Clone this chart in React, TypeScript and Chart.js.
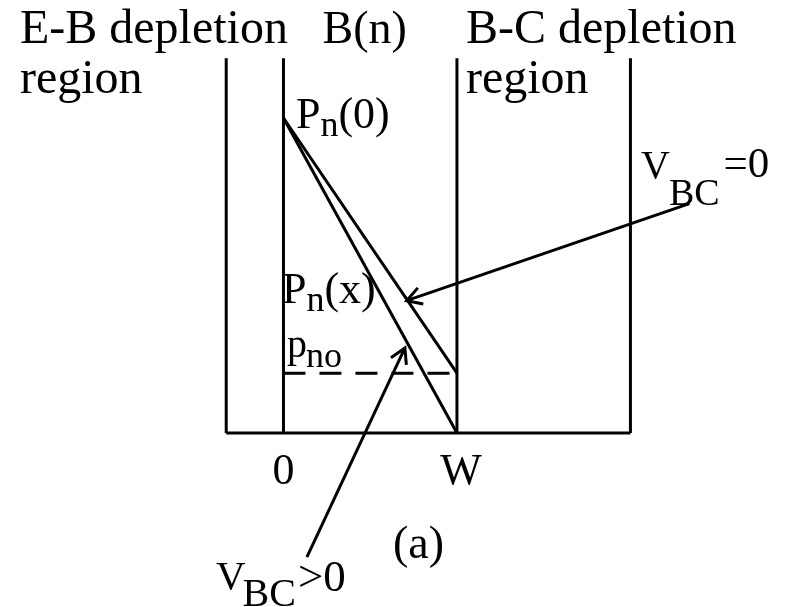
import { useEffect, useRef } from "react";
import { Chart, registerables } from "chart.js";

Chart.register(...registerables);

// Region boundaries along x: x = 0 is the emitter side of the base, x = 1 is W
const boundaryX = [-0.33, 0, 1, 2];
const boundaryTop = 1.19;
const baseLineX = [-0.33, 2];

// Hole profile in the n-type base, normalised so that Pn(0) = 1
const profileX = [0, 1];
const profileVbcZero = [1.0, 0.19]; // ends at p_no when V_BC = 0
const profileVbcPositive = [1.0, 0.0]; // falls to zero when V_BC > 0
const pnoLevel = 0.19;

// Pointer arrows: [tail, tip]
const arrowVbcZeroX = [2.34, 0.71];
const arrowVbcZeroY = [0.728, 0.42];
const arrowVbcPosX = [0.135, 0.7];
const arrowVbcPosY = [-0.394, 0.27];

// Axis tick labels below the base
const tickLabels = ["0", "W"];
const tickValues = [0, 1];

const FONT = "'Liberation Serif', 'Times New Roman', serif";

type Run = { text: string; size: number; dy?: number; dx?: number };
type Label = { x: number; y: number; runs: Run[] };

const labels: Label[] = [
  { x: -1.519, y: 1.238, runs: [{ text: "E-B depletion", size: 48 }] },
  { x: -1.519, y: 1.079, runs: [{ text: "region", size: 48 }] },
  { x: 0.225, y: 1.238, runs: [{ text: "B(n)", size: 46 }] },
  { x: 1.052, y: 1.238, runs: [{ text: "B-C depletion", size: 48 }] },
  { x: 1.052, y: 1.079, runs: [{ text: "region", size: 48 }] },
  {
    x: 0.072,
    y: 0.968,
    runs: [
      { text: "P", size: 44 },
      { text: "n", size: 36, dy: 8 },
      { text: "(0)", size: 44 },
    ],
  },
  {
    x: -0.009,
    y: 0.413,
    runs: [
      { text: "P", size: 44 },
      { text: "n", size: 36, dy: 8 },
      { text: "(x)", size: 44 },
    ],
  },
  {
    x: 0.02,
    y: 0.241,
    runs: [
      { text: "p", size: 40 },
      { text: "no", size: 36, dy: 10, dx: -1 },
    ],
  },
  {
    x: 2.061,
    y: 0.81,
    runs: [
      { text: "V", size: 40 },
      { text: "BC", size: 38, dy: 27, dx: -1 },
      { text: "=0", size: 43, dy: -1, dx: 4 },
    ],
  },
  {
    x: -0.389,
    y: -0.495,
    runs: [
      { text: "V", size: 41 },
      { text: "BC", size: 40, dy: 17, dx: -3 },
      { text: ">0", size: 45, dy: 2, dx: 2 },
    ],
  },
  { x: 0.631, y: -0.397, runs: [{ text: "(a)", size: 46 }] },
];

const seg = (xs: number[], ys: number[]) => xs.map((x, i) => ({ x, y: ys[i] }));

const lineStyle = {
  borderColor: "#000",
  borderWidth: 3,
  pointRadius: 0,
  showLine: true,
  fill: false,
  tension: 0,
};

const annotationPlugin = {
  id: "diagramText",
  afterDatasetsDraw(chart: any) {
    const { ctx } = chart;
    const xs = chart.scales.x;
    const ys = chart.scales.y;
    ctx.save();
    ctx.fillStyle = "#000";
    ctx.textBaseline = "alphabetic";

    // arrowheads at the tip of each pointer
    const heads = [
      [arrowVbcZeroX, arrowVbcZeroY],
      [arrowVbcPosX, arrowVbcPosY],
    ];
    ctx.strokeStyle = "#000";
    ctx.lineWidth = 3;
    ctx.lineCap = "butt";
    for (const [ax, ay] of heads) {
      const tx = xs.getPixelForValue(ax[0]);
      const ty = ys.getPixelForValue(ay[0]);
      const hx = xs.getPixelForValue(ax[1]);
      const hy = ys.getPixelForValue(ay[1]);
      const ang = Math.atan2(hy - ty, hx - tx);
      const len = 17;
      const spread = Math.PI / 6;
      ctx.beginPath();
      ctx.moveTo(hx - len * Math.cos(ang - spread), hy - len * Math.sin(ang - spread));
      ctx.lineTo(hx, hy);
      ctx.lineTo(hx - len * Math.cos(ang + spread), hy - len * Math.sin(ang + spread));
      ctx.stroke();
    }

    // tick labels under the base
    ctx.font = `44px ${FONT}`;
    ctx.textAlign = "center";
    tickLabels.forEach((t, i) => {
      const dx = t === "W" ? 4 : 0;
      ctx.fillText(t, xs.getPixelForValue(tickValues[i]) + dx, ys.getPixelForValue(-0.162));
    });

    // text labels with subscripts
    ctx.textAlign = "left";
    for (const lb of labels) {
      let px = xs.getPixelForValue(lb.x);
      const py = ys.getPixelForValue(lb.y);
      for (const r of lb.runs) {
        px += r.dx || 0;
        ctx.font = `${r.size}px ${FONT}`;
        ctx.fillText(r.text, px, py + (r.dy || 0));
        px += ctx.measureText(r.text).width;
      }
    }
    ctx.restore();
  },
};

export default function App() {
  const ref = useRef<HTMLCanvasElement | null>(null);

  useEffect(() => {
    document.body.style.margin = "0";
    const canvas = ref.current;
    if (!canvas) return;

    const datasets: any[] = [];
    boundaryX.forEach((bx) => {
      datasets.push({ ...lineStyle, data: seg([bx, bx], [0, boundaryTop]) });
    });
    datasets.push({ ...lineStyle, data: seg(baseLineX, [0, 0]) });
    datasets.push({ ...lineStyle, data: seg(profileX, profileVbcZero) });
    datasets.push({ ...lineStyle, data: seg(profileX, profileVbcPositive) });
    datasets.push({
      ...lineStyle,
      borderDash: [22, 14],
      data: seg(profileX, [pnoLevel, pnoLevel]),
    });
    datasets.push({ ...lineStyle, data: seg(arrowVbcZeroX, arrowVbcZeroY) });
    datasets.push({ ...lineStyle, data: seg(arrowVbcPosX, arrowVbcPosY) });

    const chart = new Chart(canvas, {
      type: "scatter",
      data: { datasets },
      options: {
        animation: false,
        responsive: false,
        layout: { padding: 0 },
        plugins: { legend: { display: false }, tooltip: { enabled: false }, title: { display: false } },
        scales: {
          x: { type: "linear", display: false, min: -1.634, max: 2.914 },
          y: { type: "linear", display: false, min: -0.5524, max: 1.3746 },
        },
        elements: { line: { borderCapStyle: "butt" } },
      },
      plugins: [annotationPlugin],
    });
    return () => chart.destroy();
  }, []);

  return (
    <div style={{ width: 789, height: 607, background: "#fff" }}>
      <canvas ref={ref} width={789} height={607} style={{ display: "block" }} />
    </div>
  );
}
